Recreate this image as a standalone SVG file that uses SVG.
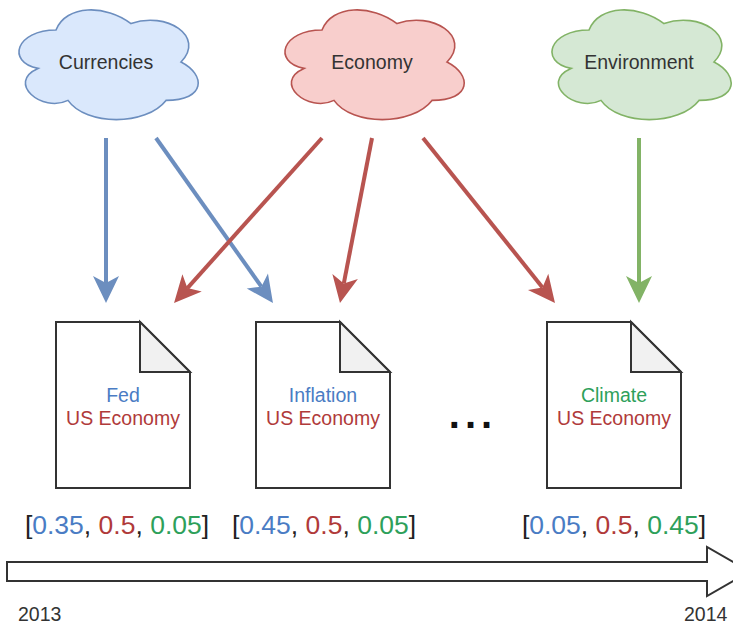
<svg xmlns="http://www.w3.org/2000/svg" width="733" height="626" viewBox="0 0 733 626">
<style>
.cl{stroke-width:1.6}
.lbl{font-family:"Liberation Sans",Arial,sans-serif;font-size:19.5px;fill:#333;text-anchor:middle}
.doc{fill:#fff;stroke:#333;stroke-width:2}
.fold{fill:#f1f1f1;stroke:#333;stroke-width:2;stroke-linejoin:miter}
.dt{font-family:"Liberation Sans",Arial,sans-serif;font-size:19.5px;text-anchor:middle}
.vec{font-family:"Liberation Sans",Arial,sans-serif;font-size:26.5px;text-anchor:middle;fill:#222}
.yr{font-family:"Liberation Sans",Arial,sans-serif;font-size:19.5px;fill:#333}
.b{fill:#4a7cc4}.r{fill:#b03a3a}.g{fill:#2ea05a}
.ln{stroke-width:4;fill:none}
</style>
<defs>
<path id="cloud" d="M50,32 C10,32 0,64 32,70.4 C0,84.5 36,115.2 62,102.4 C80,128 140,128 160,102.4 C200,102.4 200,76.8 175,64 C200,38.4 160,12.8 125,25.6 C100,6.4 60,6.4 50,32 Z"/>
<marker id="mb" markerUnits="userSpaceOnUse" markerWidth="30" markerHeight="30" viewBox="0 0 30 30" refX="10" refY="15" orient="auto"><path d="M30,15 L3,2 L10,15 L3,28 Z" fill="#6c8ebf"/></marker>
<marker id="mr" markerUnits="userSpaceOnUse" markerWidth="30" markerHeight="30" viewBox="0 0 30 30" refX="10" refY="15" orient="auto"><path d="M30,15 L3,2 L10,15 L3,28 Z" fill="#b85450"/></marker>
<marker id="mg" markerUnits="userSpaceOnUse" markerWidth="30" markerHeight="30" viewBox="0 0 30 30" refX="10" refY="15" orient="auto"><path d="M30,15 L3,2 L10,15 L3,28 Z" fill="#82b366"/></marker>
</defs>

<g id="currencies">
<use href="#cloud" transform="translate(6,-2)" fill="#dae8fc" stroke="#6c8ebf" class="cl"/>
<text class="lbl" x="106" y="69">Currencies</text>
</g>
<g id="economy">
<use href="#cloud" transform="translate(272,-2)" fill="#f8cecc" stroke="#b85450" class="cl"/>
<text class="lbl" x="372" y="69">Economy</text>
</g>
<g id="environment">
<use href="#cloud" transform="translate(539,-2)" fill="#d5e8d4" stroke="#82b366" class="cl"/>
<text class="lbl" x="639" y="69">Environment</text>
</g>

<g id="connectors">
<line class="ln" x1="106" y1="138" x2="106" y2="283" stroke="#6c8ebf" marker-end="url(#mb)"/>
<line class="ln" x1="156" y1="138" x2="261.4" y2="286.7" stroke="#6c8ebf" marker-end="url(#mb)"/>
<line class="ln" x1="322" y1="138" x2="187.4" y2="288.1" stroke="#b85450" marker-end="url(#mr)"/>
<line class="ln" x1="372" y1="138" x2="343.8" y2="283.4" stroke="#b85450" marker-end="url(#mr)"/>
<line class="ln" x1="423" y1="138" x2="542.5" y2="287.4" stroke="#b85450" marker-end="url(#mr)"/>
<line class="ln" x1="639" y1="138" x2="639" y2="283" stroke="#82b366" marker-end="url(#mg)"/>
</g>

<g id="doc-fed">
<path class="doc" d="M56,322 H140 L190,372 V488 H56 Z"/>
<path class="fold" d="M140,322 V372 H190 Z"/>
<text class="dt b" x="123" y="402">Fed</text>
<text class="dt r" x="123" y="425">US Economy</text>
</g>
<g id="doc-inflation">
<path class="doc" d="M256,322 H340 L390,372 V488 H256 Z"/>
<path class="fold" d="M340,322 V372 H390 Z"/>
<text class="dt b" x="323" y="402">Inflation</text>
<text class="dt r" x="323" y="425">US Economy</text>
</g>
<g id="doc-climate">
<path class="doc" d="M547,322 H631 L681,372 V488 H547 Z"/>
<path class="fold" d="M631,322 V372 H681 Z"/>
<text class="dt g" x="614" y="402">Climate</text>
<text class="dt r" x="614" y="425">US Economy</text>
</g>

<g id="ellipsis">
<text x="473" y="428" font-family="Liberation Sans,Arial,sans-serif" font-weight="bold" font-size="40" letter-spacing="5" text-anchor="middle" fill="#111">...</text>
</g>

<g id="vectors">
<text class="vec" x="117" y="534">[<tspan class="b">0.35</tspan>, <tspan class="r">0.5</tspan>, <tspan class="g">0.05</tspan>]</text>
<text class="vec" x="324" y="534">[<tspan class="b">0.45</tspan>, <tspan class="r">0.5</tspan>, <tspan class="g">0.05</tspan>]</text>
<text class="vec" x="614" y="534">[<tspan class="b">0.05</tspan>, <tspan class="r">0.5</tspan>, <tspan class="g">0.45</tspan>]</text>
</g>

<g id="timeline">
<path d="M7,562 H707 V547 L750,571.5 L707,596 V581 H7 Z" fill="#fff" stroke="#333" stroke-width="2"/>
<text class="yr" x="18" y="621">2013</text>
<text class="yr" x="684" y="621">2014</text>
</g>
</svg>
